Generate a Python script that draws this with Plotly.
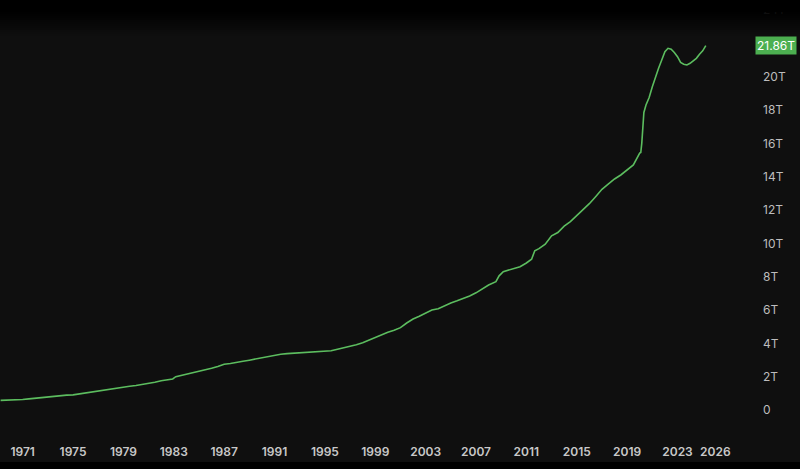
import plotly.graph_objects as go

# ---- data (US M2 money supply, trillions USD) ----
dates = [
    "1969-04-01", "1970-01-01", "1970-07-01", "1971-01-01", "1971-07-01", "1972-01-01",
    "1972-07-01", "1973-01-01", "1973-07-01", "1974-01-01", "1974-07-01", "1975-01-01",
    "1975-07-01", "1976-01-01", "1976-07-01", "1977-01-01", "1977-07-01", "1978-01-01",
    "1978-07-01", "1979-01-01", "1979-07-01", "1980-01-01", "1980-07-01", "1981-01-01",
    "1981-07-01", "1982-01-01", "1982-07-01", "1982-12-01", "1983-03-01", "1983-07-01",
    "1984-01-01", "1984-07-01", "1985-01-01", "1985-07-01", "1986-01-01", "1986-07-01",
    "1987-01-01", "1987-07-01", "1988-01-01", "1988-07-01", "1989-01-01", "1989-07-01",
    "1990-01-01", "1990-07-01", "1991-01-01", "1991-07-01", "1992-01-01", "1992-07-01",
    "1993-01-01", "1993-07-01", "1994-01-01", "1994-07-01", "1995-01-01", "1995-07-01",
    "1996-01-01", "1996-07-01", "1997-01-01", "1997-07-01", "1998-01-01", "1998-07-01",
    "1999-01-01", "1999-07-01", "2000-01-01", "2000-07-01", "2001-01-01", "2001-07-01",
    "2002-01-01", "2002-07-01", "2003-01-01", "2003-07-01", "2004-01-01", "2004-07-01",
    "2005-01-01", "2005-07-01", "2006-01-01", "2006-07-01", "2007-01-01", "2007-07-01",
    "2008-01-01", "2008-08-01", "2008-11-01", "2009-03-01", "2009-07-01", "2010-01-01",
    "2010-07-01", "2011-01-01", "2011-06-01", "2011-09-01", "2012-01-01", "2012-07-01",
    "2013-01-01", "2013-07-01", "2014-01-01", "2014-07-01", "2015-01-01", "2015-07-01",
    "2016-01-01", "2016-07-01", "2017-01-01", "2017-07-01", "2018-01-01", "2018-07-01",
    "2019-01-01", "2019-07-01", "2020-01-01", "2020-02-01", "2020-03-01", "2020-04-01",
    "2020-05-01", "2020-07-01", "2020-10-01", "2021-01-01", "2021-04-01", "2021-07-01",
    "2021-10-01", "2022-01-01", "2022-04-01", "2022-07-01", "2022-10-01", "2023-01-01",
    "2023-04-01", "2023-07-01", "2023-10-01", "2024-01-01", "2024-04-01", "2024-07-01",
    "2024-10-01", "2025-01-01", "2025-04-01",
]
m2_trillions = [
    0.58, 0.59, 0.60, 0.63, 0.67, 0.71,
    0.75, 0.80, 0.83, 0.86, 0.89, 0.91,
    0.97, 1.02, 1.08, 1.15, 1.21, 1.27,
    1.32, 1.37, 1.42, 1.47, 1.53, 1.60,
    1.67, 1.76, 1.81, 1.86, 2.00, 2.06,
    2.13, 2.20, 2.31, 2.40, 2.50, 2.61,
    2.74, 2.79, 2.84, 2.92, 2.99, 3.06,
    3.16, 3.23, 3.28, 3.35, 3.38, 3.40,
    3.42, 3.45, 3.48, 3.49, 3.50, 3.55,
    3.65, 3.73, 3.82, 3.92, 4.03, 4.19,
    4.38, 4.52, 4.66, 4.78, 4.94, 5.22,
    5.46, 5.62, 5.80, 6.00, 6.07, 6.25,
    6.42, 6.55, 6.69, 6.84, 7.03, 7.25,
    7.50, 7.70, 8.05, 8.30, 8.38, 8.47,
    8.60, 8.82, 9.05, 9.55, 9.68, 9.95,
    10.45, 10.65, 11.03, 11.30, 11.67, 12.00,
    12.38, 12.80, 13.24, 13.55, 13.86, 14.10,
    14.43, 14.70, 15.41, 15.45, 16.00, 17.10,
    17.85, 18.30, 18.75, 19.40, 20.00, 20.50,
    21.00, 21.50, 21.70, 21.65, 21.45, 21.20,
    20.85, 20.75, 20.70, 20.80, 20.95, 21.10,
    21.35, 21.55, 21.86,
]
last_label = "21.86T"

year_ticks = ["1971", "1975", "1979", "1983", "1987", "1991", "1995", "1999",
              "2003", "2007", "2011", "2015", "2019", "2023", "2026"]
price_ticks = [0, 2, 4, 6, 8, 10, 12, 14, 16, 18, 20, 24]
price_labels = ["0" if v == 0 else f"{v}T" for v in price_ticks]

BG = "#0f0f0f"
LINE = "#5cbd5f"
BOX = "#4caf50"

fig = go.Figure()
fig.add_trace(go.Scatter(
    x=dates, y=m2_trillions, mode="lines",
    line=dict(color=LINE, width=1.6), hoverinfo="skip", showlegend=False,
))

H = 469
T, B = 0, 31
ph = H - T - B

shapes = []
# bottom black strip (pixel rows 462..469)
shapes.append(dict(type="rect", xref="paper", yref="paper", x0=-0.1, x1=1.2,
                   y0=-(B + 2) / ph, y1=-(462 - (H - B)) / ph,
                   fillcolor="#000000", line=dict(width=0), layer="above"))
# top dark fade
for i in range(18):
    y_top = i * 2.0
    op = 1.0 if i < 6 else max(0.0, 1.0 - (i - 5) * 0.08)
    shapes.append(dict(type="rect", xref="paper", yref="paper", x0=-0.1, x1=1.2,
                       y0=1 - (y_top + 2) / ph, y1=1 - y_top / ph,
                       fillcolor="#000000", opacity=op, line=dict(width=0), layer="above"))

fig.update_layout(
    width=800, height=H,
    margin=dict(l=0, r=48, t=T, b=B),
    paper_bgcolor=BG, plot_bgcolor=BG,
    font=dict(family="Inter, Roboto, sans-serif", color="#c4c4c4"),
    xaxis=dict(
        range=["1969-03-15", "2028-12-01"],
        tickvals=[f"{y}-01-01" for y in year_ticks], ticktext=year_ticks,
        showgrid=False, zeroline=False, showline=False, ticks="",
        tickfont=dict(size=12, color="#c8c8c8", family="Inter, sans-serif", weight=600),
        ticklabelstandoff=5, fixedrange=True,
    ),
    yaxis=dict(
        side="right", range=[-1.68, 24.6],
        tickvals=price_ticks, ticktext=price_labels,
        showgrid=False, zeroline=False, showline=False, ticks="",
        tickfont=dict(size=12, color="#bdbdbd", family="Inter, sans-serif"),
        ticklabelstandoff=10, fixedrange=True,
    ),
    shapes=shapes,
    annotations=[dict(
        x=1, xref="paper", xanchor="left", xshift=3,
        y=m2_trillions[-1], yref="y", yanchor="middle",
        text=last_label, showarrow=False,
        font=dict(size=12, color="#ffffff", family="Inter, sans-serif"),
        bgcolor=BOX, borderpad=1,
    )],
)

fig.write_html("out.html", config={"displayModeBar": False},
               post_script="document.body.style.margin='0';document.body.style.background='#000';")
